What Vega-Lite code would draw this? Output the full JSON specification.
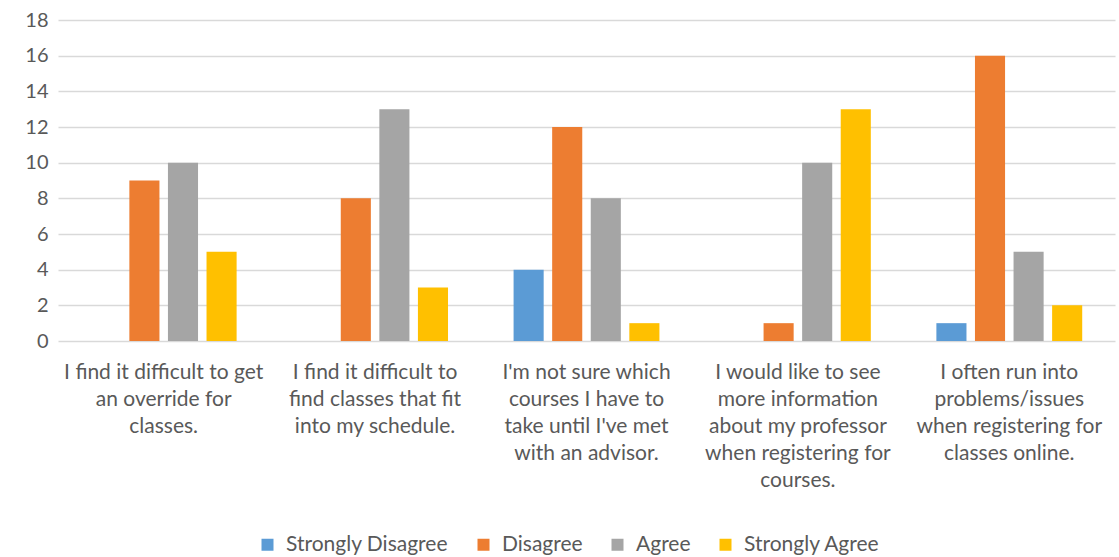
{
  "$schema": "https://vega.github.io/schema/vega-lite/v6.json",
  "autosize": "none",
  "width": 1057,
  "height": 321,
  "padding": {"left": 58, "top": 20, "right": 4, "bottom": 216},
  "background": "white",
  "data": {
    "values": [
      {"q": "I find it difficult to get|an override for|classes.", "r": "Strongly Disagree", "v": 0},
      {"q": "I find it difficult to get|an override for|classes.", "r": "Disagree", "v": 9},
      {"q": "I find it difficult to get|an override for|classes.", "r": "Agree", "v": 10},
      {"q": "I find it difficult to get|an override for|classes.", "r": "Strongly Agree", "v": 5},
      {"q": "I find it difficult to|find classes that fit|into my schedule.", "r": "Strongly Disagree", "v": 0},
      {"q": "I find it difficult to|find classes that fit|into my schedule.", "r": "Disagree", "v": 8},
      {"q": "I find it difficult to|find classes that fit|into my schedule.", "r": "Agree", "v": 13},
      {"q": "I find it difficult to|find classes that fit|into my schedule.", "r": "Strongly Agree", "v": 3},
      {"q": "I'm not sure which|courses I have to|take until I've met|with an advisor.", "r": "Strongly Disagree", "v": 4},
      {"q": "I'm not sure which|courses I have to|take until I've met|with an advisor.", "r": "Disagree", "v": 12},
      {"q": "I'm not sure which|courses I have to|take until I've met|with an advisor.", "r": "Agree", "v": 8},
      {"q": "I'm not sure which|courses I have to|take until I've met|with an advisor.", "r": "Strongly Agree", "v": 1},
      {"q": "I would like to see|more information|about my professor|when registering for|courses.", "r": "Strongly Disagree", "v": 0},
      {"q": "I would like to see|more information|about my professor|when registering for|courses.", "r": "Disagree", "v": 1},
      {"q": "I would like to see|more information|about my professor|when registering for|courses.", "r": "Agree", "v": 10},
      {"q": "I would like to see|more information|about my professor|when registering for|courses.", "r": "Strongly Agree", "v": 13},
      {"q": "I often run into|problems/issues|when registering for|classes online.", "r": "Strongly Disagree", "v": 1},
      {"q": "I often run into|problems/issues|when registering for|classes online.", "r": "Disagree", "v": 16},
      {"q": "I often run into|problems/issues|when registering for|classes online.", "r": "Agree", "v": 5},
      {"q": "I often run into|problems/issues|when registering for|classes online.", "r": "Strongly Agree", "v": 2}
    ]
  },
  "config": {
    "view": {"stroke": null},
    "font": "Lato"
  },
  "mark": {"type": "bar"},
  "encoding": {
    "x": {
      "field": "q",
      "type": "nominal",
      "sort": null,
      "title": null,
      "scale": {"paddingInner": 0.27, "paddingOuter": 0.135},
      "axis": {
        "labelExpr": "split(datum.label, '|')",
        "labelAngle": 0,
        "labelFontSize": 21,
        "labelColor": "#595959",
        "labelLineHeight": 27,
        "labelPadding": 20,
        "labelLimit": 0,
        "ticks": false,
        "domain": false
      }
    },
    "xOffset": {
      "field": "r",
      "type": "nominal",
      "sort": ["Strongly Disagree", "Disagree", "Agree", "Strongly Agree"],
      "scale": {"paddingInner": 0.22, "paddingOuter": 0.11}
    },
    "y": {
      "field": "v",
      "type": "quantitative",
      "title": null,
      "scale": {"domain": [0, 18]},
      "axis": {
        "values": [0, 2, 4, 6, 8, 10, 12, 14, 16, 18],
        "labelFontSize": 20,
        "labelColor": "#595959",
        "labelPadding": 10,
        "ticks": false,
        "domain": false,
        "gridColor": "#d9d9d9",
        "gridWidth": 1.5
      }
    },
    "color": {
      "field": "r",
      "type": "nominal",
      "title": null,
      "scale": {
        "domain": ["Strongly Disagree", "Disagree", "Agree", "Strongly Agree"],
        "range": ["#5B9BD5", "#ED7D31", "#A5A5A5", "#FFC000"]
      },
      "legend": {
        "orient": "none",
        "legendX": 199,
        "legendY": 514,
        "direction": "horizontal",
        "symbolType": "square",
        "symbolSize": 144,
        "symbolStrokeWidth": 0,
        "labelFontSize": 21,
        "labelLimit": 0,
        "labelColor": "#595959",
        "columnPadding": 24,
        "labelOffset": 8
      }
    }
  }
}
